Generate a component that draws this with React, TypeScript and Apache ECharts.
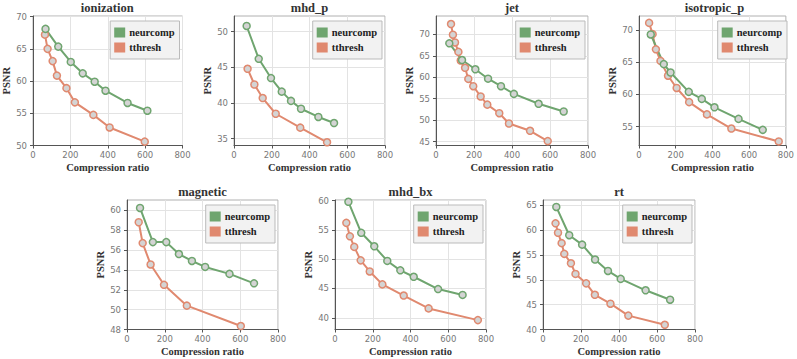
import React, { useEffect, useRef } from "react";
import * as echarts from "echarts";

// ---- data ----
const panelNames = ["ionization", "mhd_p", "jet", "isotropic_p", "magnetic", "mhd_bx", "rt"];

const ionizationNeurX = [67, 135, 202, 266, 330, 388, 506, 612];
const ionizationNeurY = [68.1, 65.35, 62.97, 61.2, 59.9, 58.5, 56.6, 55.4];
const ionizationTthX = [64, 78, 105, 128, 179, 224, 323, 410, 598];
const ionizationTthY = [67.2, 65.0, 63.1, 60.85, 58.9, 56.7, 54.75, 52.8, 50.6];

const mhdPNeurX = [67, 131, 196, 253, 302, 355, 447, 530];
const mhdPNeurY = [50.8, 46.2, 43.5, 41.6, 40.3, 39.2, 38.05, 37.2];
const mhdPTthX = [72, 108, 152, 221, 351, 493];
const mhdPTthY = [44.8, 42.6, 40.7, 38.5, 36.55, 34.5];

const jetNeurX = [70, 137, 207, 274, 342, 410, 540, 672];
const jetNeurY = [67.9, 64.0, 61.85, 59.65, 57.9, 56.1, 53.8, 52.0];
const jetTthX = [79, 89, 100, 118, 130, 153, 170, 196, 235, 270, 333, 384, 495, 588];
const jetTthY = [72.4, 69.9, 68.1, 65.9, 63.9, 62.2, 59.6, 57.9, 55.5, 53.6, 51.6, 49.2, 47.5, 45.1];

const isoNeurX = [64, 135, 172, 271, 342, 411, 542, 674];
const isoNeurY = [69.3, 64.7, 63.4, 60.4, 59.3, 58.0, 56.2, 54.5];
const isoTthX = [55, 74, 92, 117, 158, 205, 273, 370, 503, 761];
const isoTthY = [71.1, 69.35, 67.0, 65.2, 62.9, 61.0, 58.8, 56.9, 54.7, 52.7];

const magNeurX = [69, 137, 208, 275, 344, 414, 543, 673];
const magNeurY = [60.24, 56.8, 56.8, 55.6, 54.9, 54.3, 53.6, 52.65];
const magTthX = [62, 83, 125, 196, 317, 603];
const magTthY = [58.8, 56.7, 54.55, 52.5, 50.4, 48.35];

const bxNeurX = [71, 139, 208, 277, 346, 417, 546, 676];
const bxNeurY = [59.8, 54.5, 52.2, 49.7, 48.1, 47.0, 44.9, 43.9];
const bxTthX = [60, 79, 102, 136, 184, 251, 364, 496, 757];
const bxTthY = [56.2, 53.9, 52.1, 49.8, 47.9, 45.7, 43.8, 41.6, 39.6];

const rtNeurX = [70, 138, 206, 274, 342, 409, 540, 669];
const rtNeurY = [64.7, 59.0, 57.1, 54.1, 51.8, 50.2, 47.9, 46.0];
const rtTthX = [66, 79, 98, 112, 147, 171, 227, 273, 355, 449, 641];
const rtTthY = [61.4, 59.5, 57.4, 55.25, 53.35, 51.2, 49.3, 47.0, 45.2, 42.8, 40.95];

const neurXs = [ionizationNeurX, mhdPNeurX, jetNeurX, isoNeurX, magNeurX, bxNeurX, rtNeurX];
const neurYs = [ionizationNeurY, mhdPNeurY, jetNeurY, isoNeurY, magNeurY, bxNeurY, rtNeurY];
const tthXs = [ionizationTthX, mhdPTthX, jetTthX, isoTthX, magTthX, bxTthX, rtTthX];
const tthYs = [ionizationTthY, mhdPTthY, jetTthY, isoTthY, magTthY, bxTthY, rtTthY];

const yMins = [50, 34.05, 44.07, 52.07, 48, 38, 40];
const yMaxs = [70.1, 52.2, 74.27, 72.17, 61.04, 60.1, 66.1];
const yTicks = [
  [50, 55, 60, 65, 70],
  [35, 40, 45, 50],
  [45, 50, 55, 60, 65, 70],
  [55, 60, 65, 70],
  [48, 50, 52, 54, 56, 58, 60],
  [40, 45, 50, 55, 60],
  [40, 45, 50, 55, 60, 65],
];
const xTicks = [0, 200, 400, 600, 800];

// ---- layout ----
const W = 797;
const H = 359;
const gridLefts = [32, 234, 436, 639, 127, 335, 543];
const gridWidths = [150.5, 151, 152, 151, 151, 151, 152];
const topRowTop = 16;
const botRowTop = 200;
const rowHeight = 129.5;

const GREEN = "#6fa56f";
const ORANGE = "#e0896f";
const SERIF = "Liberation Serif";
const SANS = "DejaVu Sans";

function zip(xs: number[], ys: number[]) {
  return xs.map((x, i) => [x, ys[i]]);
}

export default function App() {
  const ref = useRef<HTMLDivElement>(null);
  useEffect(() => {
    if (!ref.current) return;
    const chart = echarts.init(ref.current, null, { renderer: "svg" });
    const grids: any[] = [];
    const xAxes: any[] = [];
    const yAxes: any[] = [];
    const series: any[] = [];
    const titles: any[] = [];
    const legends: any[] = [];
    panelNames.forEach((name, i) => {
      const top = i < 4 ? topRowTop : botRowTop;
      const left = gridLefts[i];
      const width = gridWidths[i];
      grids.push({
        left,
        top,
        width,
        height: rowHeight,
        show: true,
        borderColor: "#b0b0b0",
        borderWidth: 1,
        backgroundColor: "transparent",
      });
      xAxes.push({
        type: "value",
        gridIndex: i,
        min: 0,
        max: 800,
        interval: 200,
        name: "Compression ratio",
        nameLocation: "middle",
        nameGap: 16,
        nameTextStyle: { fontFamily: SERIF, fontWeight: "bold", fontSize: 10.5, color: "#333" },
        axisLine: { show: true, onZero: false, lineStyle: { color: "#555", width: 1 } },
        axisTick: { show: true, length: 3, lineStyle: { color: "#555" } },
        axisLabel: { fontFamily: SANS, fontSize: 8.5, color: "#777", margin: 5, customValues: xTicks },
        splitLine: { show: true, lineStyle: { color: "#e3e3e3", width: 1 } },
      });
      yAxes.push({
        type: "value",
        gridIndex: i,
        min: yMins[i],
        max: yMaxs[i],
        name: "PSNR",
        nameLocation: "middle",
        nameGap: 21,
        nameTextStyle: { fontFamily: SERIF, fontWeight: "bold", fontSize: 10.5, color: "#333" },
        axisLine: { show: true, onZero: false, lineStyle: { color: "#555", width: 1 } },
        axisTick: { show: true, length: 3, lineStyle: { color: "#555" }, customValues: yTicks[i] },
        axisLabel: { fontFamily: SANS, fontSize: 8.5, color: "#777", margin: 6, customValues: yTicks[i] },
        splitLine: { show: true, lineStyle: { color: "#e3e3e3", width: 1 } },
      });
      titles.push({
        text: name,
        left: left + width / 2,
        top: top - 15,
        textAlign: "center",
        padding: 0,
        textStyle: { fontFamily: SERIF, fontWeight: "bold", fontSize: 12.5, color: "#333" },
      });
      legends.push({
        orient: "vertical",
        right: W - (left + width) + 3,
        top: top + 5,
        itemWidth: 11,
        itemHeight: 10,
        itemGap: 4,
        padding: [6, 5, 6, 4],
        backgroundColor: "#f2f2f2",
        borderColor: "#bbbbbb",
        borderWidth: 1,
        selectedMode: false,
        textStyle: { fontFamily: SERIF, fontWeight: "bold", fontSize: 10.5, color: "#222", padding: [0, 0, 0, -1] },
        data: [
          { name: "neurcomp", icon: "rect", itemStyle: { color: GREEN, borderWidth: 0 } },
          { name: "tthresh", icon: "rect", itemStyle: { color: ORANGE, borderWidth: 0 } },
        ],
      });
      const mk = (sname: string, color: string, data: number[][]) => ({
        type: "line",
        name: sname,
        xAxisIndex: i,
        yAxisIndex: i,
        data,
        symbol: "circle",
        symbolSize: 7,
        lineStyle: { color, width: 2 },
        itemStyle: { color: "#d4d4d4", borderColor: color, borderWidth: 1.5 },
        emphasis: { disabled: true },
      });
      series.push(mk("tthresh", ORANGE, zip(tthXs[i], tthYs[i])));
      series.push(mk("neurcomp", GREEN, zip(neurXs[i], neurYs[i])));
    });
    chart.setOption({
      animation: false,
      backgroundColor: "#ffffff",
      title: titles,
      legend: legends,
      grid: grids,
      xAxis: xAxes,
      yAxis: yAxes,
      series,
    });
    return () => chart.dispose();
  }, []);
  return (
    <div
      ref={ref}
      style={{ position: "fixed", left: 0, top: 0, width: W, height: H }}
    />
  );
}
